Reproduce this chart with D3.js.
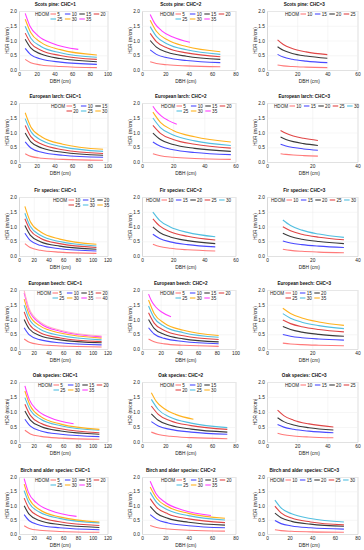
<!DOCTYPE html>
<html><head><meta charset="utf-8">
<script src="https://cdn.jsdelivr.net/npm/d3@7"></script>
<style>body{margin:0;background:#fff}svg{display:block;font-family:"Liberation Sans",Arial,sans-serif}</style>
</head><body><svg id="c" width="364" height="550"></svg>
<script>
// ---------- DATA ----------
const titles = [
  "Scots pine: CHC=1","Scots pine: CHC=2","Scots pine: CHC=3",
  "European larch: CHC=1","European larch: CHC=2","European larch: CHC=3",
  "Fir species: CHC=1","Fir species: CHC=2","Fir species: CHC=3",
  "European beech: CHC=1","European beech: CHC=2","European beech: CHC=3",
  "Oak species: CHC=1","Oak species: CHC=2","Oak species: CHC=3",
  "Birch and alder species: CHC=1","Birch and alder species: CHC=2","Birch and alder species: CHC=3"
];
const xMax = [100,80,60, 100,60,40, 120,60,40, 120,100,40, 120,80,60, 120,80,80];
const yTicks = [0,0.5,1.0,1.5,2.0];

const scotsPine1Dbh = [7,13.2,24.8,46.7,88];
const scotsPine1 = [
  {hdom:5,  hdr:[.36,.247,.170,.117,.08]},
  {hdom:10, hdr:[.73,.521,.372,.266,.19]},
  {hdom:15, hdr:[1.04,.749,.539,.388,.28]},
  {hdom:20, hdr:[1.25,.916,.671,.492,.36]},
  {hdom:25, hdr:[1.48,1.087,.798,.586,.43]},
  {hdom:30, hdr:[1.72,1.269,.937,.691,.51]},
  {hdom:35, dbh:[7,12.3,21.7,38.1,67], hdr:[1.92,1.492,1.159,.901,.70]}
];
const scotsPine2Dbh = [7,12.3,21.7,38.1,67];
const scotsPine2 = [
  {hdom:5,  hdr:[.28,.222,.176,.139,.11]},
  {hdom:10, hdr:[.68,.530,.413,.321,.25]},
  {hdom:15, hdr:[1.0,.775,.60,.465,.36]},
  {hdom:20, hdr:[1.24,.962,.747,.580,.45]},
  {hdom:25, hdr:[1.47,1.139,.883,.684,.53]},
  {hdom:30, hdr:[1.69,1.315,1.023,.796,.62]},
  {hdom:35, dbh:[7,10.9,16.9,26.4,41], hdr:[1.88,1.581,1.329,1.118,.94]}
];
const scotsPine3Dbh = [7,10.8,16.7,25.9,40];
const scotsPine3 = [
  {hdom:10, hdr:[.17,.141,.117,.097,.08]},
  {hdom:15, hdr:[.53,.439,.364,.302,.25]},
  {hdom:20, hdr:[.79,.666,.562,.474,.40]},
  {hdom:25, hdr:[1.02,.862,.728,.615,.52]}
];
const larch1Dbh = [7,13.4,25.8,49.5,95];
const larch1 = [
  {hdom:5,  hdr:[.28,.190,.129,.088,.06]},
  {hdom:10, hdr:[.68,.473,.329,.229,.16]},
  {hdom:15, hdr:[.98,.682,.475,.330,.23]},
  {hdom:20, hdr:[1.24,.862,.599,.417,.29]},
  {hdom:25, hdr:[1.47,1.034,.727,.512,.36]},
  {hdom:30, hdr:[1.67,1.190,.847,.604,.43]}
];
const larch2Dbh = [7,11.8,20.0,33.8,57];
const larch2 = [
  {hdom:5,  hdr:[.28,.211,.159,.120,.09]},
  {hdom:10, hdr:[.68,.530,.413,.321,.25]},
  {hdom:15, hdr:[.98,.763,.593,.462,.36]},
  {hdom:20, hdr:[1.24,.973,.763,.599,.47]},
  {hdom:25, hdr:[1.49,1.167,.914,.715,.56]},
  {hdom:30, hdr:[1.69,1.345,1.071,.853,.68]},
  {hdom:35, dbh:[7,9.35,12.5,16.7,22.3], hdr:[1.89,1.715,1.555,1.411,1.28]}
];
const larch3Dbh = [6,8.35,11.6,16.2,22.5];
const larch3 = [
  {hdom:10, hdr:[.28,.257,.236,.217,.20]},
  {hdom:15, hdr:[.60,.542,.490,.443,.40]},
  {hdom:20, hdr:[.85,.766,.690,.622,.56]},
  {hdom:25, hdr:[1.07,.973,.884,.803,.73]},
  {hdom:30, hdr:[]}
];
const fir1Dbh = [8,15.2,29.0,55.2,105];
const fir1 = [
  {hdom:10, hdr:[.42,.286,.194,.132,.09]},
  {hdom:15, hdr:[.77,.528,.362,.248,.17]},
  {hdom:20, hdr:[1.03,.708,.487,.335,.23]},
  {hdom:25, hdr:[1.26,.873,.604,.419,.29]},
  {hdom:30, hdr:[1.45,1.009,.702,.489,.34]},
  {hdom:35, hdr:[1.68,1.173,.820,.573,.40]}
];
const fir2Dbh = [7,11.3,18.1,29.2,47];
const fir2 = [
  {hdom:10, hdr:[.40,.323,.261,.210,.17]},
  {hdom:15, hdr:[.74,.595,.479,.386,.31]},
  {hdom:20, hdr:[.99,.799,.645,.520,.42]},
  {hdom:25, hdr:[1.26,1.020,.825,.668,.54]},
  {hdom:30, hdr:[1.49,1.211,.984,.800,.65]}
];
const fir3Dbh = [7,10.4,15.4,22.9,34];
const fir3 = [
  {hdom:10, hdr:[.23,.191,.159,.132,.11]},
  {hdom:15, hdr:[.51,.443,.385,.334,.29]},
  {hdom:20, hdr:[.77,.662,.569,.489,.42]},
  {hdom:25, hdr:[.99,.855,.738,.637,.55]},
  {hdom:30, hdr:[1.22,1.034,.877,.743,.63]}
];
const beech1Dbh = [7,14,28,56,112];
const beech1 = [
  {hdom:5,  hdr:[.34,.229,.154,.104,.07]},
  {hdom:10, hdr:[.72,.478,.317,.211,.14]},
  {hdom:15, hdr:[1.0,.677,.458,.310,.21]},
  {hdom:20, hdr:[1.26,.841,.561,.375,.25]},
  {hdom:25, hdr:[1.49,1.006,.680,.459,.31]},
  {hdom:30, hdr:[1.69,1.156,.791,.541,.37]},
  {hdom:35, hdr:[1.90,1.295,.883,.602,.41]},
  {hdom:40, hdr:[1.98,1.357,.930,.638,.44]}
];
const beech2Dbh = [7,13.0,24.0,44.3,82];
const beech2 = [
  {hdom:5,  hdr:[.34,.244,.175,.125,.09]},
  {hdom:10, hdr:[.72,.509,.36,.255,.18]},
  {hdom:15, hdr:[1.0,.70,.49,.343,.24]},
  {hdom:20, hdr:[1.23,.878,.627,.448,.32]},
  {hdom:25, hdr:[1.46,1.056,.764,.553,.40]},
  {hdom:30, hdr:[1.66,1.204,.874,.634,.46]},
  {hdom:35, dbh:[7,10.2,14.7,21.4,31], hdr:[1.86,1.627,1.424,1.246,1.09]}
];
const beech3Dbh = [7,10.4,15.4,22.9,34];
const beech3 = [
  {hdom:10, hdr:[.20,.172,.148,.128,.11]},
  {hdom:15, hdr:[.49,.433,.383,.339,.30]},
  {hdom:20, hdr:[.76,.659,.572,.496,.43]},
  {hdom:25, hdr:[.98,.860,.754,.661,.58]},
  {hdom:30, hdr:[1.20,1.045,.910,.792,.69]},
  {hdom:35, hdr:[1.38,1.204,1.051,.917,.80]}
];
const oak1Dbh = [8,15.4,29.5,56.7,109];
const oak1 = [
  {hdom:5,  hdr:[.39,.270,.187,.130,.09]},
  {hdom:10, hdr:[.76,.530,.370,.258,.18]},
  {hdom:15, hdr:[1.03,.730,.517,.367,.26]},
  {hdom:20, hdr:[1.26,.887,.625,.440,.31]},
  {hdom:25, hdr:[1.48,1.060,.760,.544,.39]},
  {hdom:30, hdr:[1.70,1.199,.845,.596,.42]},
  {hdom:35, dbh:[8,14,24.3,42.4,74], hdr:[1.87,1.413,1.068,.807,.61]}
];
const oak2Dbh = [8,13.9,24.2,42,73];
const oak2 = [
  {hdom:5,  hdr:[.33,.251,.191,.145,.11]},
  {hdom:10, hdr:[.68,.535,.420,.330,.26]},
  {hdom:15, hdr:[.94,.724,.557,.429,.33]},
  {hdom:20, hdr:[1.20,.923,.710,.546,.42]},
  {hdom:25, hdr:[1.42,1.083,.826,.630,.48]},
  {hdom:30, dbh:[8,12.2,18.8,28.7,44], hdr:[1.64,1.353,1.116,.921,.76]}
];
const oak3Dbh = [7,11.1,17.6,27.8,44];
const oak3 = [
  {hdom:10, hdr:[.29,.242,.202,.168,.14]},
  {hdom:15, hdr:[.58,.496,.424,.362,.31]},
  {hdom:20, hdr:[.81,.679,.569,.477,.40]},
  {hdom:25, hdr:[1.06,.879,.728,.603,.50]}
];
const birch1Dbh = [7,13.9,27.6,54.9,109];
const birch1 = [
  {hdom:5,  hdr:[.29,.196,.132,.089,.06]},
  {hdom:10, hdr:[.68,.466,.319,.219,.15]},
  {hdom:15, hdr:[.99,.687,.477,.331,.23]},
  {hdom:20, hdr:[1.26,.880,.615,.429,.30]},
  {hdom:25, hdr:[1.52,1.082,.770,.548,.39]},
  {hdom:30, hdr:[1.75,1.225,.858,.600,.42]},
  {hdom:35, dbh:[7,12.8,23.4,42.7,78], hdr:[1.94,1.459,1.097,.825,.62]}
];
const birch2Dbh = [7,12.5,22.3,39.8,71];
const birch2 = [
  {hdom:5,  hdr:[.30,.228,.173,.132,.10]},
  {hdom:10, hdr:[.68,.513,.387,.292,.22]},
  {hdom:15, hdr:[.97,.729,.548,.412,.31]},
  {hdom:20, hdr:[1.24,.935,.704,.531,.40]},
  {hdom:25, hdr:[1.46,1.111,.846,.644,.49]},
  {hdom:30, hdr:[1.65,1.254,.953,.724,.55]},
  {hdom:35, dbh:[7,11.9,20.3,34.6,59], hdr:[1.85,1.424,1.097,.845,.65]}
];
const birch3Dbh = [7,12.4,21.8,38.5,68];
const birch3 = [
  {hdom:10, hdr:[.15,.119,.095,.075,.06]},
  {hdom:15, hdr:[.47,.364,.283,.219,.17]},
  {hdom:20, hdr:[.73,.569,.444,.346,.27]},
  {hdom:25, hdr:[.98,.741,.560,.423,.32]},
  {hdom:30, hdr:[1.19,.917,.707,.545,.42]}
];

const panelCurves = [scotsPine1,scotsPine2,scotsPine3,larch1,larch2,larch3,fir1,fir2,fir3,
  beech1,beech2,beech3,oak1,oak2,oak3,birch1,birch2,birch3];
const panelDbh = [scotsPine1Dbh,scotsPine2Dbh,scotsPine3Dbh,larch1Dbh,larch2Dbh,larch3Dbh,
  fir1Dbh,fir2Dbh,fir3Dbh,beech1Dbh,beech2Dbh,beech3Dbh,oak1Dbh,oak2Dbh,oak3Dbh,
  birch1Dbh,birch2Dbh,birch3Dbh];

// ---------- LAYOUT / STYLE ----------
const seriesColors = ["#ff7a7a","#4a4aff","#3a3a3a","#e04646","#52bfe0","#ffb21e","#ff3cff","#ffb3c6"];
const colLeft = [19,142,267], colRight = [107.5,235.5,357.5];
const rowTop = [11,103,197,290,382,477], rowBottom = [70,162,256,349,442,534];
const legendCols = [4,4,5, 3,4,5, 3,5,5, 4,4,3, 4,3,4, 4,4,5];
const legendOffset = [16,18,18, 32,19,7, 34,4,4, 18,18,3, 19,18,18, 16,19,3];
const fs = 4.8;

const svg = d3.select("#c");

panelCurves.forEach((curves, i) => {
  const r = Math.floor(i/3), c = i%3;
  const x = d3.scaleLinear().domain([0, xMax[i]]).range([colLeft[c], colRight[c]]);
  const y = d3.scaleLinear().domain([0, 2]).range([rowBottom[r], rowTop[r]]);
  const g = svg.append("g");
  const h = rowBottom[r]-rowTop[r], w = colRight[c]-colLeft[c];

  const xa = g.append("g").attr("transform", `translate(0,${rowBottom[r]})`)
    .call(d3.axisBottom(x).tickValues(d3.range(0, xMax[i]+1, 20)).tickSize(-h).tickPadding(2.2).tickFormat(d3.format("d")));
  const ya = g.append("g").attr("transform", `translate(${colLeft[c]},0)`)
    .call(d3.axisLeft(y).tickValues(yTicks).tickSize(-w).tickPadding(2).tickFormat(d3.format(".1f")));
  [xa, ya].forEach(a => {
    a.select(".domain").attr("stroke", "#cfcfcf").attr("stroke-width", 0.6);
    a.selectAll(".tick line").attr("stroke", "#ececec").attr("stroke-width", 0.5);
    a.selectAll(".tick text").attr("fill", "#222").style("font-size", fs+"px").style("font-family","Liberation Sans, Arial, sans-serif");
  });
  xa.selectAll(".tick text").attr("dy", "0.75em");

  g.append("text").attr("x", (colLeft[c]+colRight[c])/2 - 3).attr("y", rowBottom[r]+13)
    .attr("text-anchor","middle").style("font-size", fs+"px").attr("fill","#222").text("DBH (cm)");
  g.append("text").attr("transform", `translate(${colLeft[c]-10.5},${(rowTop[r]+rowBottom[r])/2}) rotate(-90)`)
    .attr("text-anchor","middle").style("font-size", fs+"px").attr("fill","#222").text("HDR (m/cm)");
  g.append("text").attr("x", (colLeft[c]+colRight[c])/2 - 8).attr("y", rowTop[r]-5)
    .attr("text-anchor","middle").style("font-size","4.6px").style("font-weight","bold").attr("fill","#111").text(titles[i]);

  const line = d3.line().x(d => x(d[0])).y(d => y(d[1])).curve(d3.curveMonotoneX);
  curves.forEach((cv, k) => {
    const xs = cv.dbh || panelDbh[i];
    const pts = cv.hdr.map((v, j) => [xs[j], v]);
    if (pts.length) g.append("path").datum(pts).attr("d", line)
      .attr("fill","none").attr("stroke", seriesColors[k]).attr("stroke-width", 1.1);
  });

  const lg = g.append("g").attr("transform", `translate(${colLeft[c]+legendOffset[i]},${rowTop[r]+3})`);
  lg.append("text").attr("x",0).attr("y",1.7).style("font-size","4.6px").attr("fill","#222").text("HDOM");
  const nc = legendCols[i];
  curves.forEach((cv, k) => {
    const col = k % nc, row = Math.floor(k / nc);
    const lx = 15.5 + col*14.4, ly = row*5;
    lg.append("line").attr("x1", lx).attr("x2", lx+5.5).attr("y1", ly).attr("y2", ly)
      .attr("stroke", seriesColors[k]).attr("stroke-width", 1.1);
    lg.append("text").attr("x", lx+6.8).attr("y", ly+1.7).style("font-size","4.6px").attr("fill","#222").text(cv.hdom);
  });
});
</script>
</body></html>
